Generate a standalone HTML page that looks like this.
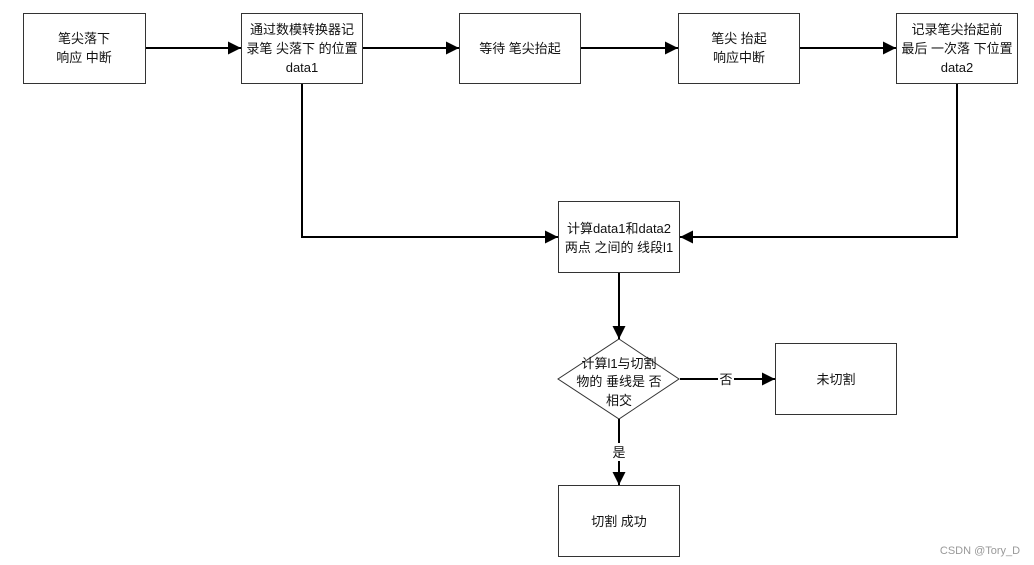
<!DOCTYPE html>
<html><head><meta charset="utf-8"><style>
html,body{margin:0;padding:0;background:#fff;}
svg{display:block;}
text{font-family:"Liberation Sans","Noto Sans CJK SC",sans-serif;font-size:13px;fill:#111;text-anchor:middle;}
</style></head><body>
<svg width="1034" height="565" viewBox="0 0 1034 565" xmlns="http://www.w3.org/2000/svg">
<defs><marker id="a" markerWidth="13" markerHeight="13" refX="13" refY="6.5" orient="auto" markerUnits="userSpaceOnUse"><path d="M0,0 L13,6.5 L0,13 z" fill="#000"/></marker></defs>
<g fill="#fff" stroke="#333" stroke-width="1">
<rect x="23.5" y="13.5" width="122" height="70"/>
<rect x="241.5" y="13.5" width="121" height="70"/>
<rect x="459.5" y="13.5" width="121" height="70"/>
<rect x="678.5" y="13.5" width="121" height="70"/>
<rect x="896.5" y="13.5" width="121" height="70"/>
<rect x="558.5" y="201.5" width="121" height="71"/>
<path d="M619,339 L679,379 L619,419 L558,379 z"/>
<rect x="775.5" y="343.5" width="121" height="71"/>
<rect x="558.5" y="485.5" width="121" height="71"/>
</g>
<g stroke="#000" stroke-width="2" fill="none">
<line x1="146" y1="48" x2="241" y2="48" marker-end="url(#a)"/>
<line x1="363" y1="48" x2="459" y2="48" marker-end="url(#a)"/>
<line x1="581" y1="48" x2="678" y2="48" marker-end="url(#a)"/>
<line x1="800" y1="48" x2="896" y2="48" marker-end="url(#a)"/>
<polyline points="302,84 302,237 558,237" marker-end="url(#a)"/>
<polyline points="957,84 957,237 680,237" marker-end="url(#a)"/>
<line x1="619" y1="273" x2="619" y2="339" marker-end="url(#a)"/>
<line x1="680" y1="379" x2="775" y2="379" marker-end="url(#a)"/>
<line x1="619" y1="419" x2="619" y2="485" marker-end="url(#a)"/>
</g>
<rect x="718" y="370" width="16" height="18" fill="#fff"/>
<rect x="610" y="443" width="18" height="18" fill="#fff"/>
<text x="84" y="43">笔尖落下</text><text x="84" y="62">响应 中断</text>
<text x="302" y="34">通过数模转换器记</text><text x="302" y="53">录笔 尖落下 的位置</text><text x="302" y="72">data1</text>
<text x="520" y="53">等待 笔尖抬起</text>
<text x="739" y="43">笔尖 抬起</text><text x="739" y="62">响应中断</text>
<text x="957" y="34">记录笔尖抬起前</text><text x="957" y="53">最后 一次落 下位置</text><text x="957" y="72">data2</text>
<text x="619" y="233">计算data1和data2</text><text x="619" y="252">两点 之间的 线段l1</text>
<text x="619" y="368">计算l1与切割</text><text x="619" y="386">物的 垂线是 否</text><text x="619" y="405">相交</text>
<text x="726" y="384">否</text>
<text x="619" y="457">是</text>
<text x="836" y="384">未切割</text>
<text x="619" y="526">切割 成功</text>
<text x="980" y="554" style="font-size:11px;fill:#999">CSDN @Tory_D</text>
</svg>
</body></html>
